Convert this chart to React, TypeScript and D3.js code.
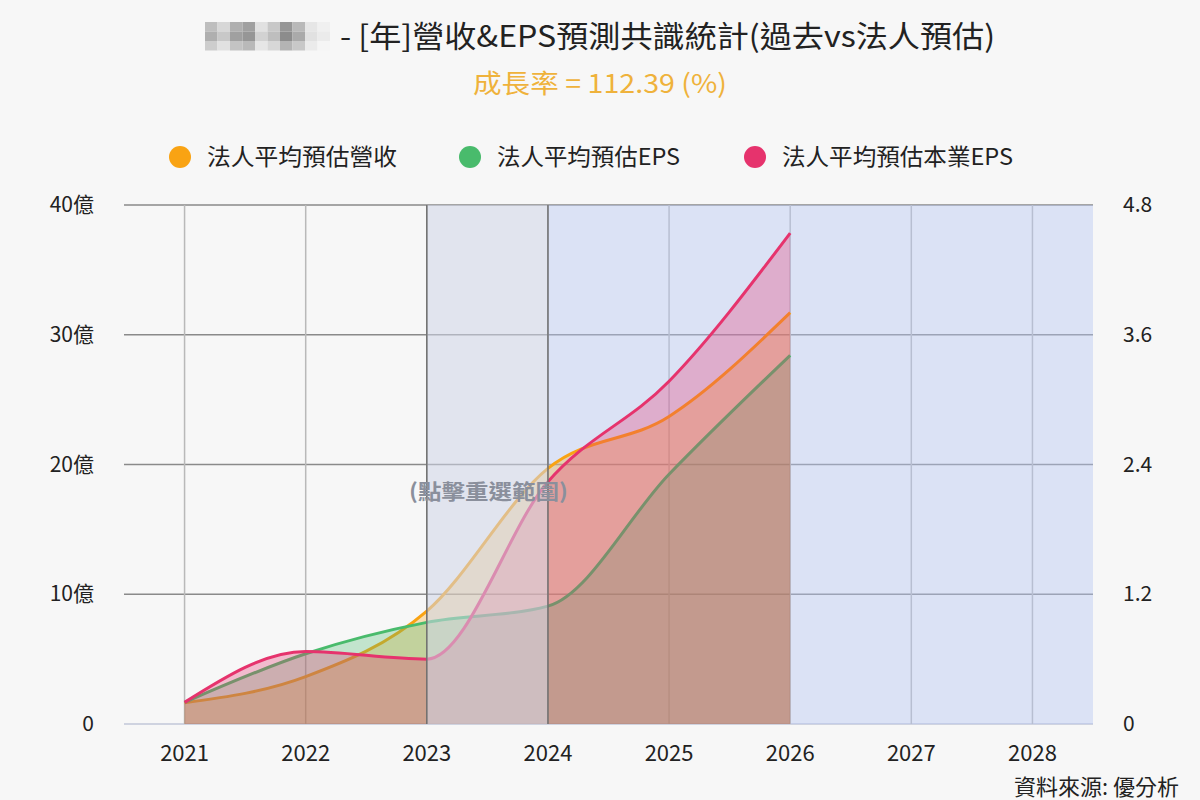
import React from 'react';
import * as d3 from 'd3';

const years = ['2021', '2022', '2023', '2024', '2025', '2026', '2027', '2028'];
const revenue = [1.64, 3.65, 8.7, 19.7, 23.7, 31.7]; // 億
const eps = [0.2, 0.65, 0.94, 1.09, 2.31, 3.41];
const coreEps = [0.2, 0.67, 0.6, 2.24, 3.17, 4.54];
const leftTicks = [0, 10, 20, 30, 40];
const rightTicks = [0, 1.2, 2.4, 3.6, 4.8];
const blurShades = [
  [190, 215, 175, 160, 225, 200, 150, 185, 230, 240],
  [175, 200, 160, 150, 210, 190, 140, 170, 225, 235],
  [205, 225, 195, 185, 230, 215, 180, 200, 235, 245],
];

const W = 1200, H = 800;
const left = 124, right = 1093, top = 205, bottom = 724;

export default function App() {
  const x = d3.scaleBand().domain(years).range([left, right]);
  const cx = (i: number) => (x(years[i]) as number) + x.bandwidth() / 2;
  const yL = d3.scaleLinear().domain([0, 40]).range([bottom, top]);
  const yR = d3.scaleLinear().domain([0, 4.8]).range([bottom, top]);

  const mk = (vals: number[], y: d3.ScaleLinear<number, number>) => {
    const pts = vals.map((v, i) => [cx(i), y(v)] as [number, number]);
    const line = d3.line().curve(d3.curveMonotoneX)(pts) as string;
    const area = d3.area().curve(d3.curveMonotoneX).y0(bottom).x((d) => d[0]).y1((d) => d[1])(pts) as string;
    return { line, area };
  };
  const series = [
    { name: '法人平均預估營收', color: '#f9a313', tl: 190, ...mk(revenue, yL) },
    { name: '法人平均預估EPS', color: '#49bb6c', tl: 183, ...mk(eps, yR) },
    { name: '法人平均預估本業EPS', color: '#e6336d', tl: 231, ...mk(coreEps, yR) },
  ];
  const x2023 = cx(2), x2024 = cx(3);
  const font = '"Noto Sans CJK TC", "Noto Sans", sans-serif';
  const legendX = [180, 470, 755];

  return (
    <svg width={W} height={H} style={{ position: 'absolute', left: 0, top: 0, background: '#f7f7f7' }} fontFamily={font}>
      <rect x={0} y={0} width={W} height={H} fill="#f7f7f7" />
      {/* blurred name */}
      {blurShades.map((row, r) =>
        row.map((g, c) => (
          <rect key={`b${r}-${c}`} x={205 + c * 12.5} y={22 + r * 9.5} width={12.5} height={9.5} fill={`rgb(${g},${g},${g})`} />
        ))
      )}
      <text x={340} y={47} fontSize={30} fill="#222" textLength={655} lengthAdjust="spacingAndGlyphs">- [年]營收&amp;EPS預測共識統計(過去vs法人預估)</text>
      <text x={473} y={93} fontSize={26} fill="#efb23b" textLength={254} lengthAdjust="spacingAndGlyphs">成長率 = 112.39 (%)</text>

      {/* legend */}
      {series.map((s, i) => (
        <g key={s.name}>
          <circle cx={legendX[i]} cy={157} r={11} fill={s.color} />
          <text x={legendX[i] + 27} y={165} fontSize={23} fill="#222" textLength={s.tl} lengthAdjust="spacingAndGlyphs">{s.name}</text>
        </g>
      ))}

      {/* horizontal grid */}
      {leftTicks.filter((t) => t > 0).map((t) => (
        <line key={`h${t}`} x1={left} x2={right} y1={yL(t)} y2={yL(t)} stroke="#8a8a8a" strokeWidth={1.5} />
      ))}
      <line x1={left} x2={right} y1={bottom} y2={bottom} stroke="#cfd3e0" strokeWidth={2} />
      {/* vertical grid */}
      {years.map((yr, i) => (
        <line key={`v${yr}`} x1={cx(i)} x2={cx(i)} y1={top} y2={bottom} stroke="#b9b9b9" strokeWidth={1.5} />
      ))}
      {/* forecast band */}
      <rect x={x2024} y={top} width={right - x2024} height={bottom - top} fill="rgb(182,198,242)" fillOpacity={0.42} />

      {/* series */}
      {series.map((s) => (
        <g key={`s${s.name}`}>
          <path d={s.area} fill={s.color} fillOpacity={0.3} />
          <path d={s.line} fill="none" stroke={s.color} strokeWidth={3} />
        </g>
      ))}

      {/* selection overlay */}
      <rect x={x2023} y={top} width={x2024 - x2023} height={bottom - top} fill="rgb(207,213,231)" fillOpacity={0.55} />
      <line x1={x2023} x2={x2023} y1={top} y2={bottom} stroke="#6f6f6f" strokeWidth={1.5} />
      <line x1={x2024} x2={x2024} y1={top} y2={bottom} stroke="#6f6f6f" strokeWidth={1.5} />
      <text x={409} y={499} fontSize={21} fontWeight="bold" fill="#8a8f9c" textLength={159} lengthAdjust="spacingAndGlyphs">(點擊重選範圍)</text>

      {/* axes labels */}
      {leftTicks.map((t) => (
        <text key={`l${t}`} x={94} y={yL(t) + 7} fontSize={21} fill="#222" textAnchor="end">{t === 0 ? '0' : `${t}億`}</text>
      ))}
      {rightTicks.map((t) => (
        <text key={`r${t}`} x={1123} y={yR(t) + 7} fontSize={21} fill="#222">{t === 0 ? '0' : t.toFixed(1)}</text>
      ))}
      {years.map((yr, i) => (
        <text key={`x${yr}`} x={cx(i)} y={761} fontSize={22} fill="#222" textAnchor="middle">{yr}</text>
      ))}
      <text x={1179} y={795} fontSize={22} fill="#222" textAnchor="end">資料來源: 優分析</text>
    </svg>
  );
}
